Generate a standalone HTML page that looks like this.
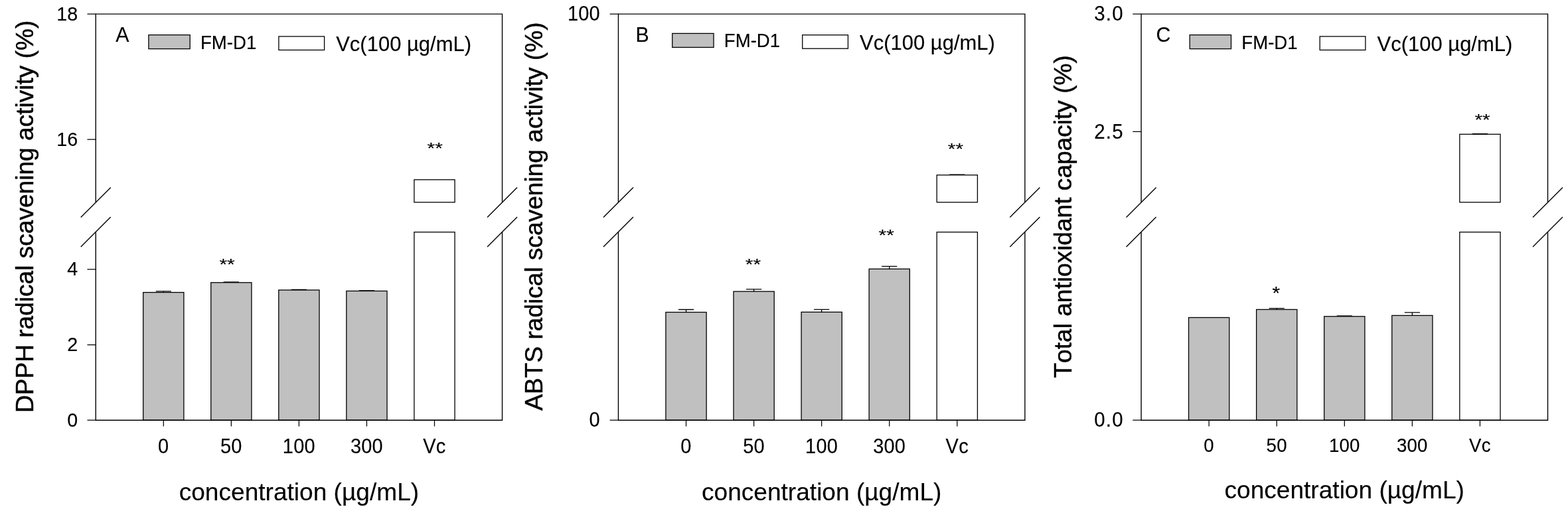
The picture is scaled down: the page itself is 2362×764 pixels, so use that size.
<!DOCTYPE html>
<html lang="en">
<head>
<meta charset="utf-8">
<title>Antioxidant activity of FM-D1</title>
<style>
html,body{margin:0;padding:0;background:#fff;}
body{width:2362px;height:764px;overflow:hidden;}
svg{display:block;}
svg text{font-family:"Liberation Sans", Arial, Helvetica, sans-serif;fill:#000;stroke:#000;stroke-width:0.15px;font-kerning:none;}
svg text.yl{stroke-width:0.45px;}
</style>
</head>
<body>
<svg width="2362" height="764" viewBox="0 0 2362 764">
<rect x="0" y="0" width="2362" height="764" fill="#fff"/>
<g id="panelA">
<rect x="215.7" y="440.6" width="61.2" height="192.6" fill="#c0c0c0" stroke="#000" stroke-width="1.3"/>
<path d="M246.3 440.6V438.9M234.7 438.9H257.9" stroke="#000" stroke-width="1.3" fill="none"/>
<rect x="317.75" y="425.8" width="61.2" height="207.4" fill="#c0c0c0" stroke="#000" stroke-width="1.3"/>
<path d="M336.75 425H359.95" stroke="#000" stroke-width="1.3" fill="none"/>
<rect x="419.8" y="437.05" width="61.2" height="196.15" fill="#c0c0c0" stroke="#000" stroke-width="1.3"/>
<path d="M438.8 436.4H462" stroke="#000" stroke-width="1.3" fill="none"/>
<rect x="521.85" y="438.5" width="61.2" height="194.7" fill="#c0c0c0" stroke="#000" stroke-width="1.3"/>
<path d="M540.85 437.9H564.05" stroke="#000" stroke-width="1.3" fill="none"/>
<rect x="623.9" y="349.75" width="61.2" height="283.45" fill="#fff" stroke="#000" stroke-width="1.3"/>
<rect x="623.9" y="270.8" width="61.2" height="34" fill="#fff" stroke="#000" stroke-width="1.3"/>
<path d="M144.25 304.8V21.1H756.55V304.8M756.55 349.75V633.2H144.25V349.75" fill="none" stroke="#000" stroke-width="1.4"/>
<path d="M121.75 327.4L166.75 282.4M121.75 371.9L166.75 326.9M734.05 327.4L779.05 282.4M734.05 371.9L779.05 326.9" stroke="#000" stroke-width="1.4" fill="none"/>
<path d="M131.45 633.2H144.25M131.45 519.5H144.25M131.45 405.8H144.25M131.45 210.2H144.25M131.45 21.1H144.25M246.3 633.2V642.4M348.35 633.2V642.4M450.4 633.2V642.4M552.45 633.2V642.4M654.5 633.2V642.4" stroke="#000" stroke-width="1.25" fill="none"/>
<text transform="translate(117.4 642.8) scale(1 1.05)" font-size="28.6" text-anchor="end" letter-spacing="0.2">0</text>
<text transform="translate(117.4 529.1) scale(1 1.05)" font-size="28.6" text-anchor="end" letter-spacing="0.2">2</text>
<text transform="translate(117.4 415.4) scale(1 1.05)" font-size="28.6" text-anchor="end" letter-spacing="0.2">4</text>
<text transform="translate(117.4 219.8) scale(1 1.05)" font-size="28.6" text-anchor="end" letter-spacing="0.2">16</text>
<text transform="translate(117.4 30.7) scale(1 1.05)" font-size="28.6" text-anchor="end" letter-spacing="0.2">18</text>
<text transform="translate(246.2 682.6) scale(1 1.07)" font-size="29" text-anchor="middle" letter-spacing="0.2">0</text>
<text transform="translate(348.25 682.6) scale(1 1.07)" font-size="29" text-anchor="middle" letter-spacing="0.2">50</text>
<text transform="translate(450.3 682.6) scale(1 1.07)" font-size="29" text-anchor="middle" letter-spacing="0.2">100</text>
<text transform="translate(552.35 682.6) scale(1 1.07)" font-size="29" text-anchor="middle" letter-spacing="0.2">300</text>
<text transform="translate(654.4 682.6) scale(1 1.07)" font-size="29" text-anchor="middle" letter-spacing="0.2">Vc</text>
<text transform="translate(342.1 406.6) scale(1 0.8)" font-size="30" text-anchor="middle">**</text>
<text transform="translate(655.2 232.3) scale(1 0.8)" font-size="30" text-anchor="middle">**</text>
<text transform="translate(450.4 753.5)" font-size="37.1" text-anchor="middle">concentration (µg/mL)</text>
<text class="yl" transform="translate(49.8 326.4) rotate(-90)" font-size="37.1" text-anchor="middle">DPPH radical scavening activity (%)</text>
<text transform="translate(174.3 63) scale(1 1.055)" font-size="30.3">A</text>
<rect x="223.9" y="52.6" width="62.3" height="21" fill="#c0c0c0" stroke="#000" stroke-width="1.3"/>
<text transform="translate(302 73.5) scale(1 1.098)" font-size="27.6">FM-D1</text>
<rect x="419.9" y="54.9" width="68.7" height="20.5" fill="#fff" stroke="#000" stroke-width="1.3"/>
<text transform="translate(506.2 77) scale(1 1.037)" font-size="31">Vc(100 µg/mL)</text>
</g>
<g id="panelB">
<rect x="1002.93" y="470.5" width="61.2" height="162.7" fill="#c0c0c0" stroke="#000" stroke-width="1.3"/>
<path d="M1033.53 470.5V466.5M1021.93 466.5H1045.12" stroke="#000" stroke-width="1.3" fill="none"/>
<rect x="1105" y="439.2" width="61.2" height="194" fill="#c0c0c0" stroke="#000" stroke-width="1.3"/>
<path d="M1135.6 439.2V435.9M1124 435.9H1147.2" stroke="#000" stroke-width="1.3" fill="none"/>
<rect x="1207.08" y="470.3" width="61.2" height="162.9" fill="#c0c0c0" stroke="#000" stroke-width="1.3"/>
<path d="M1237.68 470.3V466.3M1226.08 466.3H1249.28" stroke="#000" stroke-width="1.3" fill="none"/>
<rect x="1309.15" y="405.3" width="61.2" height="227.9" fill="#c0c0c0" stroke="#000" stroke-width="1.3"/>
<path d="M1339.75 405.3V401.4M1328.15 401.4H1351.35" stroke="#000" stroke-width="1.3" fill="none"/>
<rect x="1411.23" y="349.75" width="61.2" height="283.45" fill="#fff" stroke="#000" stroke-width="1.3"/>
<rect x="1411.23" y="263.75" width="61.2" height="41.05" fill="#fff" stroke="#000" stroke-width="1.3"/>
<path d="M1430.23 263.1H1453.42" stroke="#000" stroke-width="1.3" fill="none"/>
<path d="M931.45 304.8V21.1H1543.9V304.8M1543.9 349.75V633.2H931.45V349.75" fill="none" stroke="#000" stroke-width="1.4"/>
<path d="M908.95 327.4L953.95 282.4M908.95 371.9L953.95 326.9M1521.4 327.4L1566.4 282.4M1521.4 371.9L1566.4 326.9" stroke="#000" stroke-width="1.4" fill="none"/>
<path d="M918.65 633.2H931.45M918.65 21.1H931.45M1033.53 633.2V642.4M1135.6 633.2V642.4M1237.68 633.2V642.4M1339.75 633.2V642.4M1441.83 633.2V642.4" stroke="#000" stroke-width="1.25" fill="none"/>
<text transform="translate(903.95 642.8) scale(1 1.06)" font-size="29" text-anchor="end" letter-spacing="0.2">0</text>
<text transform="translate(903.95 30.7) scale(1 1.06)" font-size="29" text-anchor="end" letter-spacing="0.2">100</text>
<text transform="translate(1033.42 682.6) scale(1 1.07)" font-size="29" text-anchor="middle" letter-spacing="0.2">0</text>
<text transform="translate(1135.5 682.6) scale(1 1.07)" font-size="29" text-anchor="middle" letter-spacing="0.2">50</text>
<text transform="translate(1237.58 682.6) scale(1 1.07)" font-size="29" text-anchor="middle" letter-spacing="0.2">100</text>
<text transform="translate(1339.65 682.6) scale(1 1.07)" font-size="29" text-anchor="middle" letter-spacing="0.2">300</text>
<text transform="translate(1441.72 682.6) scale(1 1.07)" font-size="29" text-anchor="middle" letter-spacing="0.2">Vc</text>
<text transform="translate(1134.5 406.5) scale(1 0.8)" font-size="30" text-anchor="middle">**</text>
<text transform="translate(1335.2 363.1) scale(1 0.8)" font-size="30" text-anchor="middle">**</text>
<text transform="translate(1439.4 232.5) scale(1 0.8)" font-size="30" text-anchor="middle">**</text>
<text transform="translate(1237.7 753.5)" font-size="37.1" text-anchor="middle">concentration (µg/mL)</text>
<text class="yl" transform="translate(817.1 326.05) rotate(-90)" font-size="37.1" text-anchor="middle">ABTS radical scavening activity (%)</text>
<text transform="translate(957.5 63) scale(1 1.055)" font-size="30.3">B</text>
<rect x="1012.75" y="50.4" width="62.3" height="21" fill="#c0c0c0" stroke="#000" stroke-width="1.3"/>
<text transform="translate(1090.85 71.3) scale(1 1.098)" font-size="27.6">FM-D1</text>
<rect x="1208.75" y="52.7" width="68.7" height="20.5" fill="#fff" stroke="#000" stroke-width="1.3"/>
<text transform="translate(1295.05 74.8) scale(1 1.037)" font-size="31">Vc(100 µg/mL)</text>
</g>
<g id="panelC">
<rect x="1790.57" y="478.5" width="61.2" height="154.7" fill="#c0c0c0" stroke="#000" stroke-width="1.3"/>
<rect x="1892.63" y="466.4" width="61.2" height="166.8" fill="#c0c0c0" stroke="#000" stroke-width="1.3"/>
<path d="M1923.23 466.4V464.6M1911.63 464.6H1934.83" stroke="#000" stroke-width="1.3" fill="none"/>
<rect x="1994.7" y="476.8" width="61.2" height="156.4" fill="#c0c0c0" stroke="#000" stroke-width="1.3"/>
<path d="M2013.7 476H2036.9" stroke="#000" stroke-width="1.3" fill="none"/>
<rect x="2096.77" y="475.4" width="61.2" height="157.8" fill="#c0c0c0" stroke="#000" stroke-width="1.3"/>
<path d="M2127.37 475.4V470.8M2115.77 470.8H2138.97" stroke="#000" stroke-width="1.3" fill="none"/>
<rect x="2198.83" y="349.75" width="61.2" height="283.45" fill="#fff" stroke="#000" stroke-width="1.3"/>
<rect x="2198.83" y="202.3" width="61.2" height="102.5" fill="#fff" stroke="#000" stroke-width="1.3"/>
<path d="M2217.83 201.7H2241.03" stroke="#000" stroke-width="1.3" fill="none"/>
<path d="M1719.1 304.8V21.1H2331.5V304.8M2331.5 349.75V633.2H1719.1V349.75" fill="none" stroke="#000" stroke-width="1.4"/>
<path d="M1696.6 327.4L1741.6 282.4M1696.6 371.9L1741.6 326.9M2309 327.4L2354 282.4M2309 371.9L2354 326.9" stroke="#000" stroke-width="1.4" fill="none"/>
<path d="M1706.3 633.2H1719.1M1706.3 198.3H1719.1M1706.3 21.1H1719.1M1821.17 633.2V642.4M1923.23 633.2V642.4M2025.3 633.2V642.4M2127.37 633.2V642.4M2229.43 633.2V642.4" stroke="#000" stroke-width="1.25" fill="none"/>
<text transform="translate(1692.65 642.8) scale(1 1.07)" font-size="29.5" text-anchor="end" letter-spacing="1.1">0.0</text>
<text transform="translate(1692.65 208.6) scale(1 1.07)" font-size="29.5" text-anchor="end" letter-spacing="1.1">2.5</text>
<text transform="translate(1692.65 30.7) scale(1 1.07)" font-size="29.5" text-anchor="end" letter-spacing="1.1">3.0</text>
<text transform="translate(1821.07 680.7) scale(1 1.05)" font-size="27.6" text-anchor="middle" letter-spacing="0.2">0</text>
<text transform="translate(1923.13 680.7) scale(1 1.05)" font-size="27.6" text-anchor="middle" letter-spacing="0.2">50</text>
<text transform="translate(2025.2 680.7) scale(1 1.05)" font-size="27.6" text-anchor="middle" letter-spacing="0.2">100</text>
<text transform="translate(2127.27 680.7) scale(1 1.05)" font-size="27.6" text-anchor="middle" letter-spacing="0.2">300</text>
<text transform="translate(2229.33 680.7) scale(1 1.05)" font-size="27.6" text-anchor="middle" letter-spacing="0.2">Vc</text>
<text transform="translate(1922.4 450.6) scale(1 0.9)" font-size="30" text-anchor="middle">*</text>
<text transform="translate(2233.1 189.3) scale(1 0.8)" font-size="30" text-anchor="middle">**</text>
<text transform="translate(2025.2 751.4)" font-size="37.1" text-anchor="middle">concentration (µg/mL)</text>
<text class="yl" transform="translate(1613.6 326.35) rotate(-90)" font-size="37.1" text-anchor="middle">Total antioxidant capacity (%)</text>
<text transform="translate(1741.6 63) scale(1 1.055)" font-size="30.3">C</text>
<rect x="1792.2" y="52.6" width="62.3" height="21" fill="#c0c0c0" stroke="#000" stroke-width="1.3"/>
<text transform="translate(1870.3 73.5) scale(1 1.098)" font-size="27.6">FM-D1</text>
<rect x="1988.2" y="54.9" width="68.7" height="20.5" fill="#fff" stroke="#000" stroke-width="1.3"/>
<text transform="translate(2074.5 77) scale(1 1.037)" font-size="31">Vc(100 µg/mL)</text>
</g>
</svg>
</body>
</html>
